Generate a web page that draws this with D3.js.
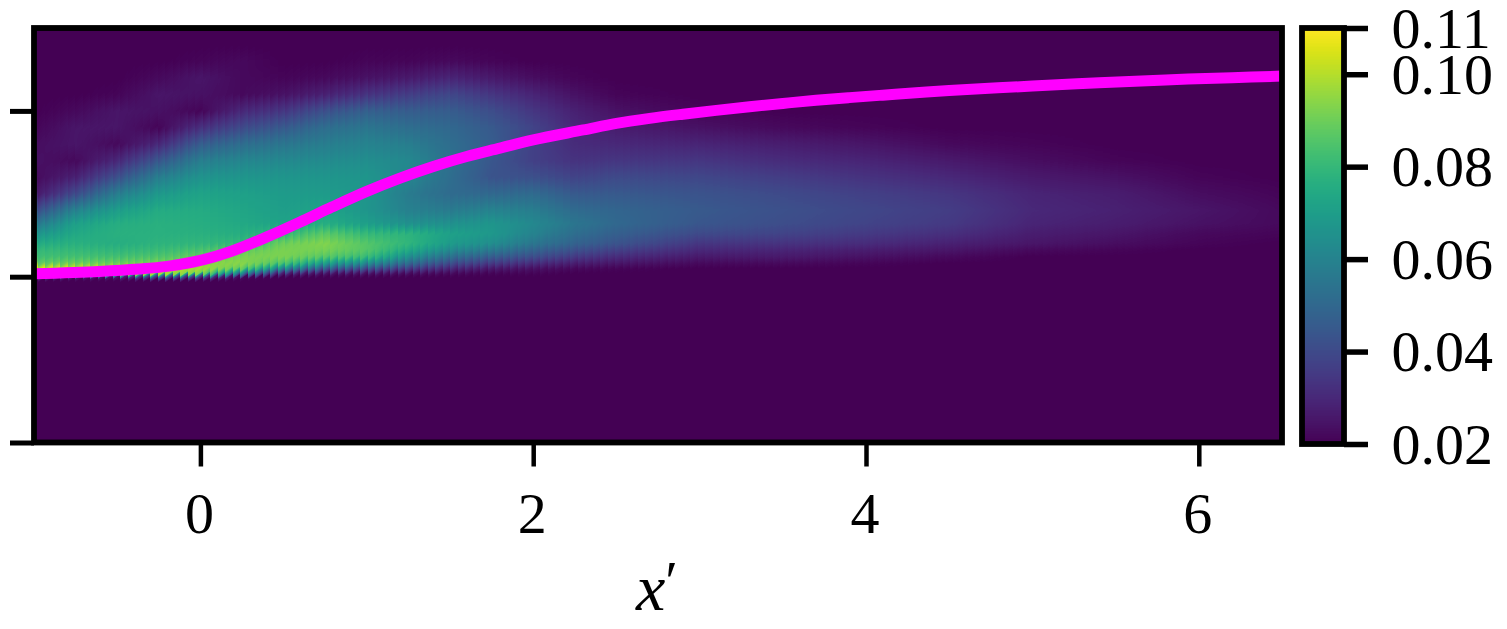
<!DOCTYPE html>
<html><head><meta charset="utf-8">
<script src="https://cdnjs.cloudflare.com/ajax/libs/d3/7.8.5/d3.min.js"></script>
<style>
html,body{margin:0;padding:0;background:#fff;overflow:hidden}
#wrap{position:relative;width:1507px;height:629px}
canvas,svg{position:absolute;left:0;top:0}
text{font-family:"Liberation Serif",serif;fill:#000}
</style></head><body><div id="wrap"></div>
<script>
// Data
const xTicks = [0, 2, 4, 6];
const yTicks = [-1, 0, 1];
const colorTicks = [0.02, 0.04, 0.06, 0.08, 0.10, 0.11];
const xDomain = [-1, 6.5];
const yDomain = [-1, 1.5];
const colorDomain = [0.02, 0.11];
const xLabel = "x";

// Magenta curve
const curveX = [-1,-0.61,-0.37,-0.2,0,0.19,0.4,0.6,0.79,1,1.2,1.4,1.6,1.8,2,2.3,2.5,2.7,2.9,3.1,3.3,3.5,3.7,3.9,4.1,4.3,4.5,5,5.4,5.8,6.2,6.5];
const curveY = [0.018,0.032,0.046,0.062,0.098,0.155,0.24,0.33,0.42,0.515,0.595,0.665,0.725,0.775,0.825,0.885,0.925,0.955,0.98,1.003,1.025,1.045,1.064,1.08,1.095,1.11,1.123,1.15,1.17,1.187,1.20,1.21];

// Heat map: rows (y') and columns (x'), values in thousandths
const heatRowsY = [1.4,1.3,1.2,1.1,1.0,0.9,0.8,0.7,0.6,0.5,0.4,0.32,0.26,0.2,0.16,0.12,0.08,0.05,0.02,0,-0.02];
const heatColsX = [-1,-0.75,-0.5,-0.25,0,0.25,0.5,0.75,1,1.25,1.5,1.75,2,2.25,2.5,3,3.5,4,4.5,5,5.5,6,6.5];
const heatColumns = [
[20,20,20,20,20,21,23,24,22,25,40,55,66,75,80,82,88,105,108,30,20],
[20,20,20,20,22,25,25,22,28,40,60,71,74,77,80,83,90,102,95,25,20],
[20,20,20,21,25,25,22,30,42,58,70,76,77,76,79,83,90,100,95,25,20],
[20,20,22,25,24,21,30,44,58,68,75,77,77,78,81,85,92,100,98,40,20],
[20,21,25,24,21,32,46,58,66,72,75,76,77,79,84,89,94,98,92,35,20],
[20,22,22,22,30,40,52,61,67,71,73,74,76,80,88,92,94,88,55,22,20],
[20,20,21,24,34,45,55,62,67,69,70,72,80,90,92,92,84,60,28,20,20],
[20,20,22,28,42,52,58,63,67,69,72,76,87,93,91,86,68,45,24,20,20],
[20,21,24,33,47,55,60,64,67,67,67,70,80,86,86,81,62,42,24,20,20],
[20,21,26,36,46,52,58,62,61,57,59,65,78,79,74,64,50,36,23,20,20],
[20,22,29,39,46,50,52,53,52,51,57,65,71,69,62,52,40,30,22,20,20],
[20,21,26,34,41,45,46,44,43,50,60,67,68,64,56,46,35,26,21,20,20],
[20,20,23,29,34,38,37,37,42,51,58,62,60,55,48,41,31,24,21,20,20],
[20,20,21,24,28,30,31,33,38,45,51,55,52,48,42,35,27,22,20,20,20],
[20,20,20,21,24,27,30,34,40,45,49,50,47,43,37,31,25,21,20,20,20],
[20,20,20,20,21,24,29,34,39,43,45,44,40,34,30,26,22,20,20,20,20],
[20,20,20,20,20,22,27,31,36,40,42,41,38,33,29,26,22,20,20,20,20],
[20,20,20,20,20,21,25,29,33,37,39,38,35,31,27,24,21,20,20,20,20],
[20,20,20,20,20,20,22,26,30,34,36,35,32,28,25,22,20,20,20,20,20],
[20,20,20,20,20,20,21,23,26,29,30,29,27,25,22,20,20,20,20,20,20],
[20,20,20,20,20,20,20,21,24,27,28,27,25,23,21,20,20,20,20,20,20],
[20,20,20,20,20,20,20,20,21,23,25,24,22,21,20,20,20,20,20,20,20],
[20,20,20,20,20,20,20,20,20,21,22,22,21,20,20,20,20,20,20,20,20]
];

const W = 1507, H = 629;
const frame = {left: 34, right: 1282, top: 28, bottom: 442.5};
const cbar = {left: 1302, right: 1344, top: 28, bottom: 444};
const x = d3.scaleLinear().domain(xDomain).range([frame.left, frame.right]);
const y = d3.scaleLinear().domain(yDomain).range([frame.bottom, frame.top]);
const color = d3.scaleSequential(d3.interpolateViridis).domain(colorDomain).clamp(true);
const cy = d3.scaleLinear().domain(colorDomain).range([cbar.bottom, cbar.top]);

const wrap = d3.select("#wrap");
const canvas = wrap.append("canvas").attr("width", W).attr("height", H).node();
const ctx = canvas.getContext("2d");

// Heat field, rendered by bilinear sampling of the table on a sheared mesh (sawtooth edges)
const colIndex = d3.scaleLinear().domain(heatColsX).range(d3.range(heatColsX.length)).clamp(true);
const rowIndex = d3.scaleLinear().domain(heatRowsY.slice().reverse()).range(d3.range(heatRowsY.length).reverse()).clamp(true);
function sample(dx, dy) {
  const ci = colIndex(dx), ri = rowIndex(dy);
  const c0 = Math.min(Math.floor(ci), heatColsX.length - 2), r0 = Math.min(Math.floor(ri), heatRowsY.length - 2);
  const a = ci - c0, b = ri - r0;
  const v = (1-a)*(1-b)*heatColumns[c0][r0] + a*(1-b)*heatColumns[c0+1][r0] + (1-a)*b*heatColumns[c0][r0+1] + a*b*heatColumns[c0+1][r0+1];
  return v / 1000;
}
const toothW = 7.5;
const toothH = d3.scaleLinear().domain([1, 3, 6.5]).range([5, 2, 1]).clamp(true);
const ax0 = Math.floor(frame.left), ax1 = Math.ceil(frame.right), ay0 = Math.floor(frame.top), ay1 = Math.ceil(frame.bottom);
const img = ctx.createImageData(ax1 - ax0, ay1 - ay0);
for (let py = ay0; py < ay1; py++) for (let px = ax0; px < ax1; px++) {
  const dataX = x.invert(px + 0.5);
  const tooth = ((px % toothW) / toothW - 0.5) * toothH(dataX);
  const c = d3.rgb(color(sample(dataX, y.invert(py + 0.5 + tooth))));
  const i = ((py - ay0) * (ax1 - ax0) + (px - ax0)) * 4;
  img.data[i] = c.r; img.data[i+1] = c.g; img.data[i+2] = c.b; img.data[i+3] = 255;
}
ctx.putImageData(img, ax0, ay0);

const svg = wrap.append("svg").attr("width", W).attr("height", H);
svg.append("defs").append("clipPath").attr("id", "plotClip").append("rect")
  .attr("x", frame.left).attr("y", frame.top).attr("width", frame.right - frame.left).attr("height", frame.bottom - frame.top);

// Curve
const line = d3.line().x((d, i) => x(curveX[i])).y((d, i) => y(curveY[i])).curve(d3.curveCatmullRom.alpha(0.5));
svg.append("path").attr("clip-path", "url(#plotClip)").datum(curveX).attr("d", line)
  .attr("fill", "none").attr("stroke", "#ff00ff").attr("stroke-width", 11);

// Colour bar
const cStep = 1;
svg.append("g").selectAll("rect").data(d3.range(cbar.top, cbar.bottom, cStep)).join("rect")
  .attr("x", cbar.left).attr("width", cbar.right - cbar.left)
  .attr("y", d => d).attr("height", cStep + 0.5)
  .attr("fill", d => color(cy.invert(d + 0.5)));

// Frames
const sw = 5.8;
[frame, cbar].forEach(f => svg.append("rect")
  .attr("x", f.left).attr("y", f.top).attr("width", f.right - f.left).attr("height", f.bottom - f.top)
  .attr("fill", "none").attr("stroke", "#000").attr("stroke-width", sw));

// Axes
const axisX = d3.axisBottom(x).tickValues(xTicks).tickSize(24).tickPadding(25).tickFormat(d3.format("d"));
const gx = svg.append("g").attr("transform", `translate(0,${frame.bottom})`).call(axisX);
gx.select(".domain").remove();
gx.selectAll("line").attr("stroke", "#000").attr("stroke-width", 4.5);
gx.selectAll("text").attr("font-size", 58).attr("font-family", '"Liberation Serif",serif').attr("dy", "0.71em").attr("dx", -1.5);

const axisY = d3.axisLeft(y).tickValues(yTicks).tickSize(24).tickFormat("");
const gy = svg.append("g").attr("transform", `translate(${frame.left},0)`).call(axisY);
gy.select(".domain").remove();
gy.selectAll("line").attr("stroke", "#000").attr("stroke-width", 5);

const axisC = d3.axisRight(cy).tickValues(colorTicks).tickSize(24).tickPadding(23.5).tickFormat(d3.format(".2f"));
const gc = svg.append("g").attr("transform", `translate(${cbar.right},0)`).call(axisC);
gc.select(".domain").remove();
gc.selectAll("line").attr("stroke", "#000").attr("stroke-width", 5.5);
gc.selectAll("text").attr("font-size", 58).attr("font-family", '"Liberation Serif",serif').attr("dy", "0.33em");

// Axis title
const title = svg.append("text").attr("x", 657).attr("y", 610).attr("text-anchor", "middle").attr("font-size", 66);
title.append("tspan").attr("font-style", "italic").text(xLabel);
title.append("tspan").attr("font-size", 58).attr("dy", -9).text("\u2032");
</script></body></html>
